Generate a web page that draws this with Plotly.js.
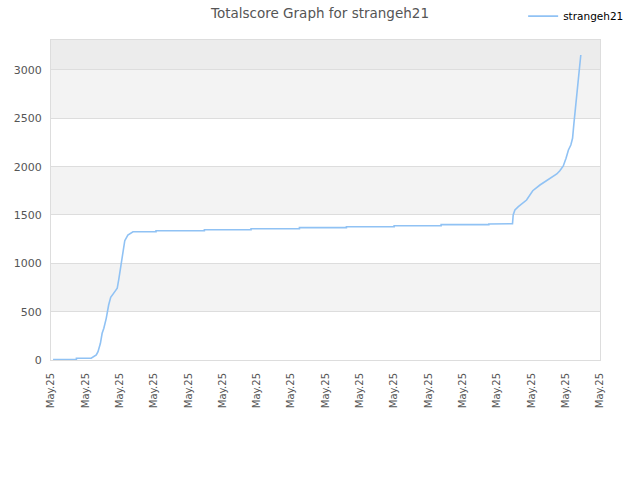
<!DOCTYPE html>
<html>
<head>
<meta charset="utf-8">
<script src="https://cdn.plot.ly/plotly-3.0.1.min.js"></script>
<style>
  body { margin: 0; background: #fff; }
  #chart { width: 640px; height: 480px; }
</style>
</head>
<body>
<div id="chart"></div>
<script>
//data (x in tick units, 0..16)
var timeIdx = [0.06, 0.74, 0.74, 1.17, 1.32, 1.37, 1.44, 1.49, 1.54, 1.61, 1.68, 1.74, 1.86, 1.93, 1.98,
  2.03, 2.09, 2.15, 2.24, 2.39, 3.06, 3.06, 4.47, 4.47, 5.83, 5.83, 7.24, 7.24, 8.61, 8.61,
  10.0, 10.0, 11.37, 11.37, 12.76, 12.76, 13.45,
  13.47, 13.52, 13.62, 13.86, 13.96, 14.04, 14.25, 14.49, 14.74, 14.83, 14.93, 15.01,
  15.08, 15.15, 15.2, 15.24, 15.27, 15.3, 15.34, 15.37, 15.4, 15.44];
var totalScore = [5, 5, 18, 18, 52, 86, 173, 276, 328, 431, 569, 648, 707, 742, 845,
  965, 1069, 1234, 1293, 1327, 1327, 1337, 1337, 1348, 1348, 1358, 1358, 1369, 1369, 1379,
  1379, 1389, 1389, 1400, 1400, 1407, 1410,
  1500, 1552, 1586, 1655, 1707, 1751, 1810, 1862, 1924, 1958, 2007, 2086,
  2172, 2224, 2293, 2448, 2552, 2707, 2811, 2948, 3034, 3155];
var tickPos = [0, 1, 2, 3, 4, 5, 6, 7, 8, 9, 10, 11, 12, 13, 14, 15, 16];
var tickLabels = tickPos.map(function () { return "May.25"; });
var yTicks = [0, 500, 1000, 1500, 2000, 2500, 3000];
var yTop = 3310;

//background bands
var shapes = [
  { type: "rect", xref: "paper", yref: "y", x0: 0, x1: 1, y0: yTicks[1], y1: yTicks[2], fillcolor: "#f3f3f3", line: { width: 0 }, layer: "below" },
  { type: "rect", xref: "paper", yref: "y", x0: 0, x1: 1, y0: yTicks[3], y1: yTicks[4], fillcolor: "#f3f3f3", line: { width: 0 }, layer: "below" },
  { type: "rect", xref: "paper", yref: "y", x0: 0, x1: 1, y0: yTicks[5], y1: yTicks[6], fillcolor: "#f3f3f3", line: { width: 0 }, layer: "below" },
  { type: "rect", xref: "paper", yref: "y", x0: 0, x1: 1, y0: yTicks[6], y1: yTop, fillcolor: "#ececec", line: { width: 0 }, layer: "below" }
];

var data = [
  {
    x: timeIdx,
    y: totalScore,
    name: "strangeh21",
    mode: "lines",
    type: "scatter",
    line: { color: "#90c2f4", width: 1.6 },
  },
];

var layout = {
  width: 640,
  height: 480,
  margin: { l: 51, r: 40, t: 40, b: 120, autoexpand: false },
  paper_bgcolor: "#fff",
  plot_bgcolor: "#fff",
  font: { family: "DejaVu Sans", size: 11, color: "#555" },
  title: { text: "Totalscore Graph for strangeh21", x: 0.5, xanchor: "center", y: 0.983, font: { size: 13.5, color: "#555" } },
  showlegend: true,
  legend: { x: 0.86, xanchor: "left", y: 1.12, yanchor: "top", font: { size: 10.5, color: "#000" }, bgcolor: "rgba(0,0,0,0)" },
  xaxis: {
    range: [0, 16],
    tickmode: "array",
    tickvals: tickPos,
    ticktext: tickLabels,
    tickangle: -90,
    tickfont: { size: 10 },
    showgrid: false,
    zeroline: false,
    showline: true,
    linecolor: "#ddd",
    mirror: true,
    ticks: "outside",
    ticklen: 8,
    tickcolor: "rgba(0,0,0,0)",
  },
  yaxis: {
    range: [0, yTop],
    tickvals: yTicks,
    showgrid: true,
    gridcolor: "#ddd",
    zeroline: false,
    showline: true,
    linecolor: "#ddd",
    mirror: true,
    ticks: "outside",
    ticklen: 6,
    tickcolor: "rgba(0,0,0,0)",
  },
  shapes: shapes,
};

Plotly.newPlot("chart", data, layout, { displayModeBar: false, staticPlot: true });
</script>
</body>
</html>
